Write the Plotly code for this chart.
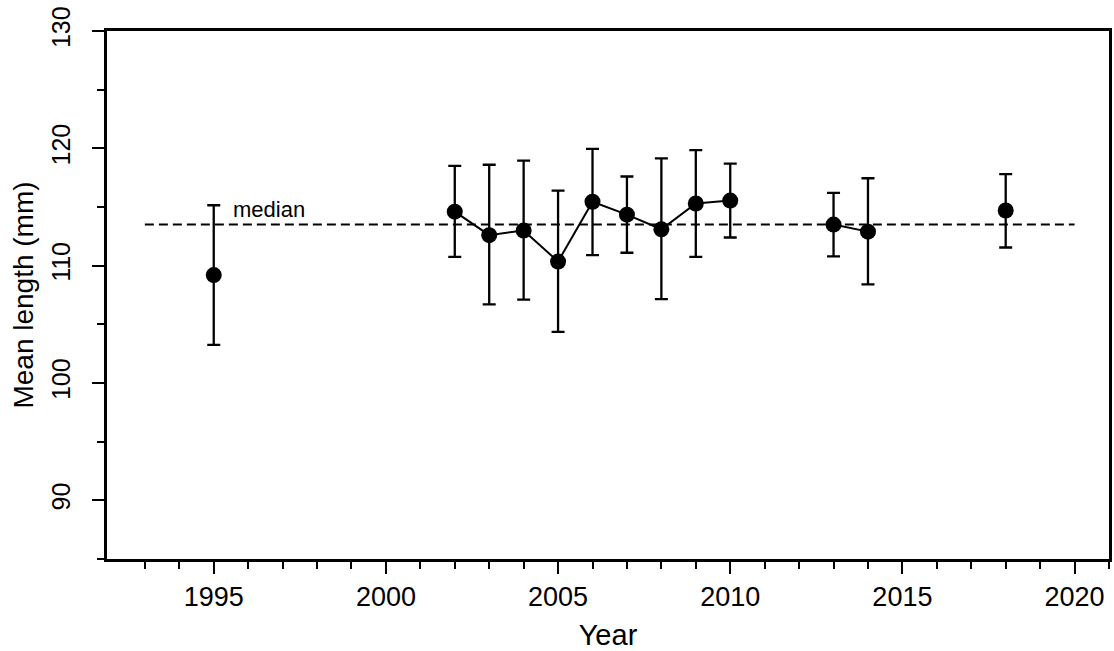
import plotly.graph_objects as go

# Data
years = [1995, 2002, 2003, 2004, 2005, 2006, 2007, 2008, 2009, 2010, 2013, 2014, 2018]
mean_len = [109.2, 114.6, 112.6, 113.0, 110.35, 115.45, 114.35, 113.1, 115.3, 115.55, 113.5, 112.9, 114.7]
upper = [115.15, 118.5, 118.6, 118.95, 116.4, 119.95, 117.6, 119.15, 119.85, 118.7, 116.2, 117.45, 117.8]
lower = [103.25, 110.75, 106.7, 107.1, 104.35, 110.9, 111.1, 107.15, 110.75, 112.4, 110.8, 108.4, 111.55]
median_value = 113.5
median_span = [1993, 2020]

FONT = "Arial, Liberation Sans, sans-serif"

err_plus = [u - m for u, m in zip(upper, mean_len)]
err_minus = [m - l for m, l in zip(mean_len, lower)]

# connect only consecutive years
line_x, line_y = [], []
for i, (yr, v) in enumerate(zip(years, mean_len)):
    if i > 0 and yr - years[i - 1] > 1:
        line_x.append(None)
        line_y.append(None)
    line_x.append(yr)
    line_y.append(v)

fig = go.Figure()

fig.add_trace(go.Scatter(
    x=median_span, y=[median_value, median_value], mode="lines",
    line=dict(color="black", width=2, dash="9px,5px"),
    hoverinfo="skip", showlegend=False))

fig.add_trace(go.Scatter(
    x=line_x, y=line_y, mode="lines", connectgaps=False,
    line=dict(color="black", width=2), showlegend=False))

fig.add_trace(go.Scatter(
    x=years, y=mean_len, mode="markers",
    marker=dict(color="black", size=16),
    error_y=dict(type="data", symmetric=False, array=err_plus, arrayminus=err_minus,
                 color="black", thickness=2.3, width=6.5),
    showlegend=False))

fig.add_annotation(x=1995.5, y=114.75, text="median", showarrow=False,
                   xanchor="left", yanchor="middle",
                   font=dict(family=FONT, size=22, color="black"))

minor_x = [y for y in range(1993, 2022) if y % 5 != 0]

fig.update_layout(
    width=1114, height=651,
    margin=dict(l=107, r=2, t=31, b=92),
    paper_bgcolor="white", plot_bgcolor="white",
    font=dict(family=FONT, color="black"),
    xaxis=dict(
        range=[1991.9, 2021.0], tickmode="array", tickvals=[1995, 2000, 2005, 2010, 2015, 2020],
        ticks="outside", ticklen=12, tickwidth=2, tickcolor="black",
        showline=True, linewidth=2.5, linecolor="black", mirror=True,
        showgrid=False, zeroline=False,
        tickfont=dict(family=FONT, size=27, color="black"),
        ticklabelstandoff=0,
        minor=dict(tickmode="array", tickvals=minor_x, ticks="outside", ticklen=7,
                   tickwidth=2, tickcolor="black", showgrid=False),
        title=dict(text="Year", font=dict(family=FONT, size=29, color="black"), standoff=14),
    ),
    yaxis=dict(
        range=[85, 130], tickmode="array", tickvals=[90, 100, 110, 120, 130],
        ticks="outside", ticklen=12, tickwidth=2, tickcolor="black",
        showline=True, linewidth=2.5, linecolor="black", mirror=True,
        showgrid=False, zeroline=False, tickangle=-90,
        tickfont=dict(family=FONT, size=25, color="black"),
        ticklabelstandoff=12,
        minor=dict(tickmode="array", tickvals=[85, 95, 105, 115, 125], ticks="outside",
                   ticklen=7, tickwidth=2, tickcolor="black", showgrid=False),
        title=dict(text="Mean length (mm)", font=dict(family=FONT, size=28, color="black"), standoff=6),
    ),
)

fig.write_html("out.html")
